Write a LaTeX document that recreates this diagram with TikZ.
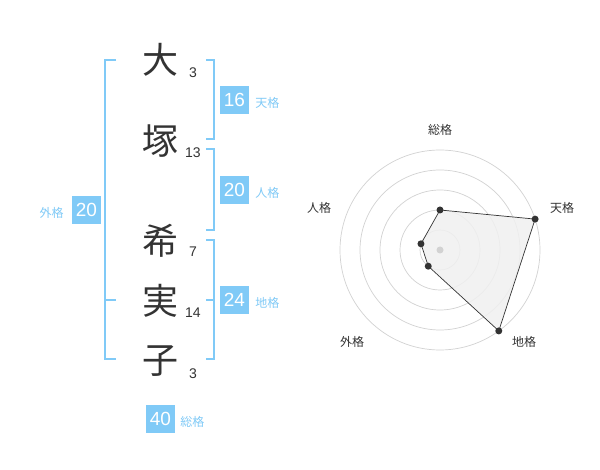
\documentclass[tikz,border=0pt]{standalone}
\usepackage{fontspec}
\setmainfont{Liberation Sans}
\newfontfamily\jpfont{Noto Sans CJK JP}
\usetikzlibrary{positioning}

\definecolor{kakublue}{RGB}{128,202,247}
\definecolor{inkgray}{RGB}{51,51,51}
\definecolor{ringgray}{RGB}{210,210,210}
\definecolor{areagray}{RGB}{240,240,240}

\begin{document}
\begin{tikzpicture}[x=1pt, y=-1pt,
    kanji/.style={font=\jpfont\fontsize{36}{36}\selectfont, text=inkgray, inner sep=0pt},
    strokes/.style={font=\fontsize{14}{14}\selectfont, text=inkgray, inner sep=0pt},
    kakubox/.style={fill=kakublue, text=white, font=\fontsize{19}{19}\selectfont, minimum width=29pt, minimum height=28pt, inner sep=0pt},
    kakulabel/.style={font=\jpfont\fontsize{12}{12}\selectfont, text=kakublue, inner sep=0pt},
    bracket/.style={draw=kakublue, line width=1.6pt},
    ring/.style={draw=ringgray, line width=0.7pt},
    axislabel/.style={font=\jpfont\fontsize{12}{12}\selectfont, text=inkgray, inner sep=0pt}]

        % Page
        \useasboundingbox[fill=white] (0, 0) rectangle (600, 470);

        % Draw the name, one character per row
        \node[kanji] (k1) at (160, 60) {大};
        \node[kanji] (k2) at (160, 141) {塚};
        \node[kanji] (k3) at (160, 241) {希};
        \node[kanji] (k4) at (160, 301) {実};
        \node[kanji] (k5) at (160, 361) {子};

        % Stroke counts
        \node[strokes] (s1) at (193, 73) {3};
        \node[strokes] (s2) at (193, 153) {13};
        \node[strokes] (s3) at (193, 252) {7};
        \node[strokes] (s4) at (193, 313) {14};
        \node[strokes] (s5) at (193, 374) {3};

        % Draw the brackets
        \draw[bracket] (116, 60) -- (105, 60) -- (105, 359) -- (116, 359);
        \draw[bracket] (105, 300) -- (116, 300);
        \draw[bracket] (206, 60) -- (214, 60) -- (214, 139) -- (206, 139);
        \draw[bracket] (206, 149) -- (214, 149) -- (214, 230) -- (206, 230);
        \draw[bracket] (206, 240) -- (214, 240) -- (214, 359) -- (206, 359);
        \draw[bracket] (206, 300) -- (214, 300);

        % The five grades
        \node[kakubox] (ten) at (234.5, 100) {16};
        \node[kakulabel, right=6pt of ten, yshift=-3pt] (tenlabel) {天格};
        \node[kakubox] (jin) at (234.5, 190) {20};
        \node[kakulabel, right=6pt of jin, yshift=-3pt] (jinlabel) {人格};
        \node[kakubox] (chi) at (234.5, 300) {24};
        \node[kakulabel, right=6pt of chi, yshift=-3pt] (chilabel) {地格};
        \node[kakubox] (gai) at (86.5, 210) {20};
        \node[kakulabel, left=8pt of gai, yshift=-3pt] (gailabel) {外格};
        \node[kakubox] (sou) at (160.5, 419) {40};
        \node[kakulabel, right=5pt of sou, yshift=-3pt] (soulabel) {総格};

        % Radar chart
        \begin{scope}[shift={(440, 250)}, yscale=-1]
            \foreach \r in {20, 40, 60, 80, 100} {
                \draw[ring] (0, 0) circle (\r);
            }
            \coordinate (psou) at (90:40);
            \coordinate (pten) at (18:100);
            \coordinate (pchi) at (-54:100);
            \coordinate (pgai) at (234:20);
            \coordinate (pjin) at (162:20);
            \draw[fill=areagray, fill opacity=0.85, draw=inkgray, line width=0.7pt]
                (psou) -- (pten) -- (pchi) -- (pgai) -- (pjin) -- cycle;
            \fill[ringgray] (0, 0) circle (3.5);
            \foreach \p in {psou, pten, pchi, pgai, pjin} {
                \fill[inkgray] (\p) circle (3.5); % data point
            }
        \end{scope}

        % Axis labels
        \node[axislabel] (asou) at (440, 130) {総格};
        \node[axislabel] (aten) at (562, 208) {天格};
        \node[axislabel] (achi) at (524, 342) {地格};
        \node[axislabel] (agai) at (352, 342) {外格};
        \node[axislabel] (ajin) at (319, 208) {人格};
    \end{tikzpicture}
\end{document}
